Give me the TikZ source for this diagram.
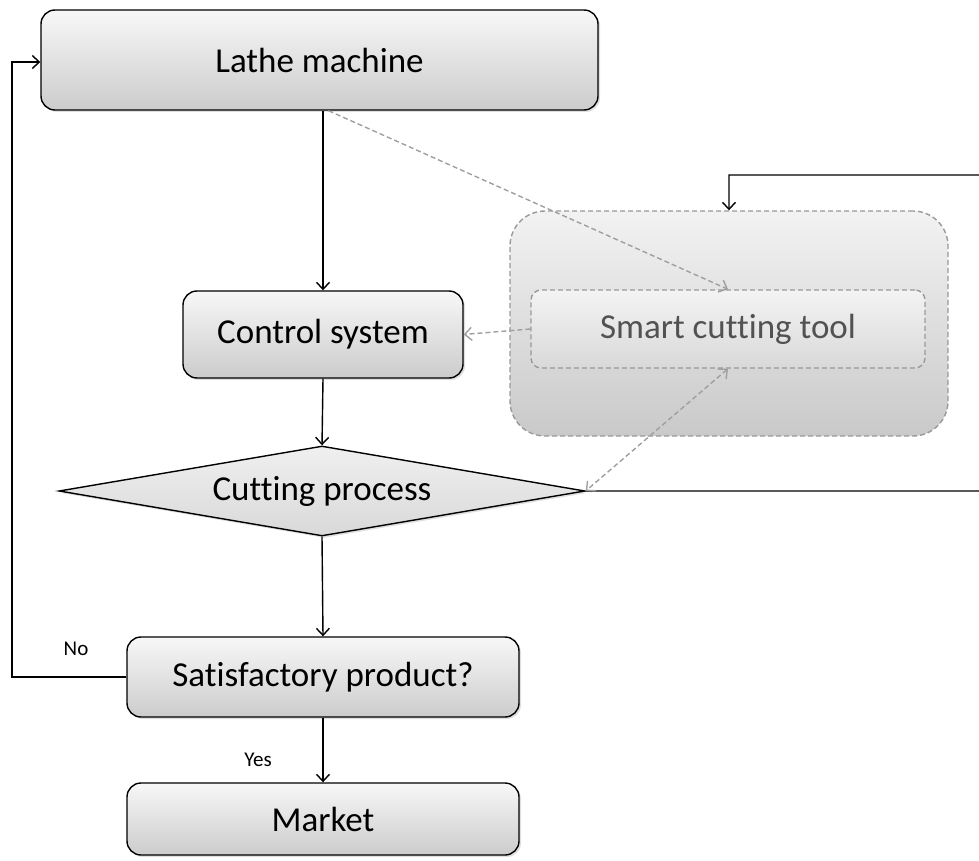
\documentclass[tikz,border=0pt]{standalone}
\usepackage{fontspec}
\setmainfont[Ligatures={NoCommon}]{Carlito}
\usetikzlibrary{arrows.meta,shapes.geometric,shadows,calc}
\begin{document}
\begin{tikzpicture}[x=1pt,y=-1pt,
  mainfont/.style={font=\fontsize{35}{40}\selectfont},
  flowbox/.style={draw=black, line width=1.4pt, rounded corners=14pt,
    top color=gray!6, bottom color=gray!40, mainfont, inner sep=0pt,
    drop shadow={shadow xshift=2pt, shadow yshift=-2pt, opacity=0.25}},
  decision/.style={draw=black, line width=1.4pt, diamond, aspect=5.8, inner sep=0pt,
    top color=gray!12, bottom color=gray!30, mainfont,
    drop shadow={shadow xshift=2pt, shadow yshift=-2pt, opacity=0.25}},
  groupbox/.style={draw=gray!80, dash pattern=on 5pt off 3pt, line width=1.4pt,
    rounded corners=35pt, top color=gray!10, bottom color=gray!42},
  innerbox/.style={draw=gray!80, dash pattern=on 5pt off 3pt, line width=1.4pt,
    rounded corners=10pt, top color=gray!9, bottom color=gray!30,
    text=black!68, mainfont, inner sep=0pt},
  arr/.style={draw=black, line width=1.4pt, -{Straight Barb[length=7pt,width=13pt]}},
  darr/.style={draw=gray!75, line width=1.4pt, dash pattern=on 5pt off 3pt,
    -{Straight Barb[length=7pt,width=13pt]}},
  lbl/.style={font=\fontsize{21}{25}\selectfont}
]
\useasboundingbox (0,0) rectangle (979,861);

\node[flowbox, minimum width=557pt, minimum height=100pt] (lathe) at (319.5,60) {Lathe machine};
\node[flowbox, minimum width=280pt, minimum height=87pt] (control) at (323,334.5) {Control system};
\node[groupbox, minimum width=438pt, minimum height=225pt] (group) at (729,323.5) {};
\node[innerbox, minimum width=394pt, minimum height=78pt] (smart) at (728,329) {Smart cutting tool};
\node[decision, minimum width=526pt, minimum height=90pt] (cut) at (322,491) {Cutting process};
\node[flowbox, minimum width=392pt, minimum height=80pt] (sat) at (323,677) {Satisfactory product?};
\node[flowbox, minimum width=392pt, minimum height=72pt] (market) at (323,819) {Market};

\node[lbl] (no) at (76,649) {No};
\node[lbl] (yes) at (258,760) {Yes};

\coordinate (ltop) at ($(lathe.west)+(0,2)$);
\coordinate (lstart) at ($(lathe.south)+(9,0)$);
\coordinate (rlow) at ($(cut.east)+(410,0)$);
\coordinate (rhigh) at (995,175);

\draw[arr] (control.north |- lathe.south) -- (control.north);
\draw[arr] (control.south) -- (cut.north);
\draw[arr] (cut.south) -- (sat.north);
\draw[arr] (sat.south) -- (market.north);
\draw[arr] (sat.west) -- (12,677) |- (ltop);
\draw[arr] (cut.east) -- (rlow) -- (rhigh) -| (group.north);

\draw[darr] (lstart) -- (smart.north);
\draw[darr] (smart.west) -- (control.east);
\draw[darr, {Straight Barb[length=7pt,width=13pt]}-{Straight Barb[length=7pt,width=13pt]}] (smart.south) -- (cut.east);
\end{tikzpicture}
\end{document}
